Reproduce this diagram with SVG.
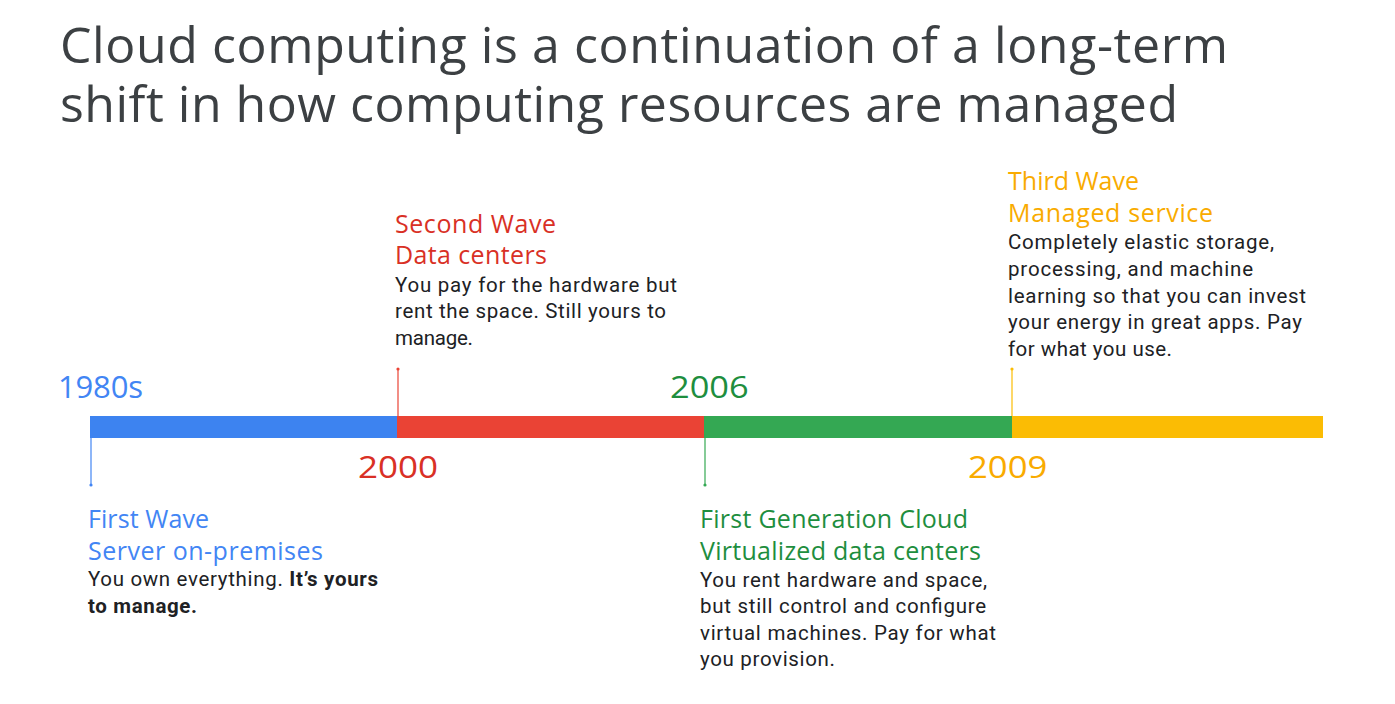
<svg xmlns="http://www.w3.org/2000/svg" width="1395" height="704" viewBox="0 0 1395 704">
  <style>
    .title { font-family: "Open Sans", "Noto Sans", sans-serif; font-size: 50px; fill: #3c4043; }
    .year { font-family: "Open Sans", "Noto Sans", sans-serif; font-size: 31px; }
    .head { font-family: "Open Sans", "Noto Sans", sans-serif; font-size: 25px; }
    .body { font-family: Roboto, "Liberation Sans", sans-serif; font-size: 20.5px; fill: #202124; }
    .blue { fill: #4285f4; }
    .red { fill: #d93025; }
    .green { fill: #1e8e3e; }
    .yellow { fill: #f9ab00; }
    .tick { stroke-width: 1.2; }
  </style>
  <rect width="1395" height="704" fill="#ffffff"/>

  <!-- Title -->
  <g id="title">
    <text class="title" x="60" y="63" textLength="1168">Cloud computing is a continuation of a long-term</text>
    <text class="title" x="60" y="122" textLength="1118">shift in how computing resources are managed</text>
  </g>

  <!-- Timeline bar segments -->
  <g id="timeline">
    <rect x="90" y="416" width="307" height="22" fill="#3d83f0"/>
    <rect x="397" y="416" width="307" height="22" fill="#ea4335"/>
    <rect x="704" y="416" width="308" height="22" fill="#34a853"/>
    <rect x="1012" y="416" width="311" height="22" fill="#fbbc04"/>
  </g>

  <!-- Leader lines from the bar to each label -->
  <g id="connectors">
    <line class="tick" x1="91" y1="438" x2="91" y2="485" stroke="#4285f4"/>
    <circle cx="91" cy="485" r="1.6" fill="#4285f4"/>
    <line class="tick" x1="398" y1="369" x2="398" y2="416" stroke="#ea4335"/>
    <circle cx="398" cy="369" r="1.6" fill="#ea4335"/>
    <line class="tick" x1="705" y1="438" x2="705" y2="485" stroke="#34a853"/>
    <circle cx="705" cy="485" r="1.6" fill="#34a853"/>
    <line class="tick" x1="1012" y1="369" x2="1012" y2="416" stroke="#fbbc04"/>
    <circle cx="1012" cy="369" r="1.6" fill="#fbbc04"/>
  </g>

  <!-- Years (digits widened horizontally) -->
  <g id="years">
    <text class="year blue" x="58" y="398" textLength="85">1980s</text>
    <text class="year red" transform="translate(358 478) scale(1.13 1)">2000</text>
    <text class="year green" transform="translate(670 398) scale(1.11 1)">2006</text>
    <text class="year yellow" transform="translate(968 478) scale(1.12 1)">2009</text>
  </g>

  <g id="first-wave">
    <text class="head blue" x="88" y="528" textLength="121">First Wave</text>
    <text class="head blue" x="88" y="560" textLength="235">Server on-premises</text>
    <text class="body" x="88" y="586" textLength="290">You own everything. <tspan font-weight="bold">It’s yours</tspan></text>
    <text class="body" x="88" y="613" font-weight="bold" textLength="109">to manage.</text>
  </g>

  <g id="second-wave">
    <text class="head red" x="395" y="233" textLength="161">Second Wave</text>
    <text class="head red" x="395" y="264" textLength="152">Data centers</text>
    <text class="body" x="395" y="292" textLength="282">You pay for the hardware but</text>
    <text class="body" x="395" y="318" textLength="271">rent the space. Still yours to</text>
    <text class="body" x="395" y="345" textLength="78">manage.</text>
  </g>

  <g id="first-generation-cloud">
    <text class="head green" x="700" y="528" textLength="268">First Generation Cloud</text>
    <text class="head green" x="700" y="560" textLength="281">Virtualized data centers</text>
    <text class="body" x="700" y="587" textLength="287">You rent hardware and space,</text>
    <text class="body" x="700" y="613" textLength="286">but still control and configure</text>
    <text class="body" x="700" y="640" textLength="296">virtual machines. Pay for what</text>
    <text class="body" x="700" y="666" textLength="135">you provision.</text>
  </g>

  <g id="third-wave">
    <text class="head yellow" x="1008" y="190" textLength="131">Third Wave</text>
    <text class="head yellow" x="1008" y="222" textLength="205">Managed service</text>
    <text class="body" x="1008" y="249" textLength="266">Completely elastic storage,</text>
    <text class="body" x="1008" y="276" textLength="245">processing, and machine</text>
    <text class="body" x="1008" y="303" textLength="298">learning so that you can invest</text>
    <text class="body" x="1008" y="329" textLength="294">your energy in great apps. Pay</text>
    <text class="body" x="1008" y="356" textLength="164">for what you use.</text>
  </g>
</svg>
